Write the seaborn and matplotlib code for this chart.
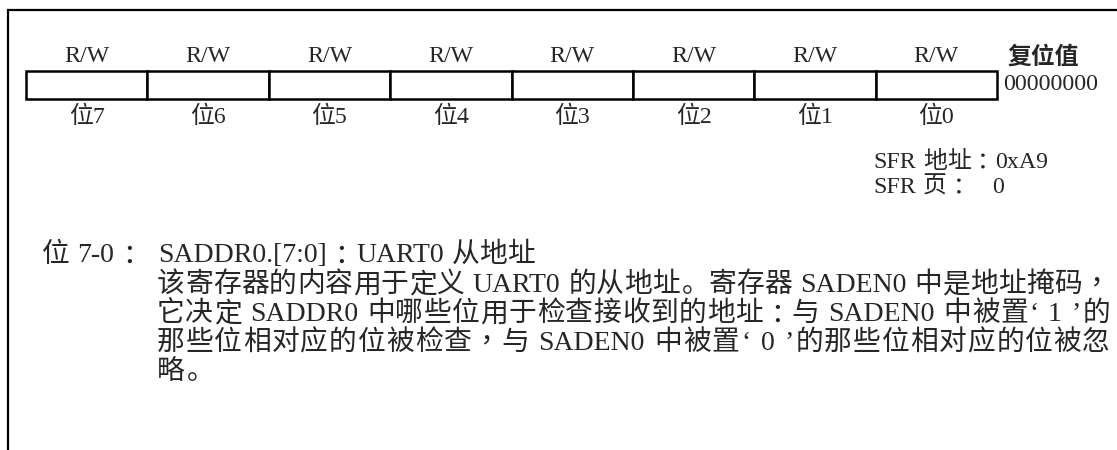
import numpy as np
import pandas as pd
import matplotlib
matplotlib.use("Agg")
import matplotlib.pyplot as plt
import seaborn as sns

# register layout data
bit_names = ["位7", "位6", "位5", "位4", "位3", "位2", "位1", "位0"]
access = ["R/W"] * 8
reset_title = "复位值"
reset_value = "00000000"
sfr_addr = "SFR 地址：0xA9"
sfr_page = "SFR 页："
sfr_page_val = "0"
field_name = "位 7-0："
desc_lines = [
    "SADDR0.[7:0]：UART0 从地址",
    "该寄存器的内容用于定义 UART0 的从地址。寄存器 SADEN0 中是地址掩码，",
    "它决定 SADDR0 中哪些位用于检查接收到的地址：与 SADEN0 中被置‘ 1 ’的",
    "那些位相对应的位被检查，与 SADEN0 中被置‘ 0 ’的那些位相对应的位被忽",
    "略。",
]
justified = [False, True, True, True, False]

sns.set_theme(style="white")
MIX = ["Liberation Serif", "Noto Sans CJK SC", "DejaVu Sans"]
PUNCT = ["Noto Sans CJK TC", "Noto Sans CJK SC"]  # centred full-width ：，
plt.rcParams["font.family"] = MIX

W, H = 1117, 450
fig = plt.figure(figsize=(W / 100, H / 100), dpi=100)
fig.patch.set_facecolor("white")

# page axes in pixel coordinates
page = fig.add_axes([0, 0, 1, 1])
page.set_xlim(0, W)
page.set_ylim(H, 0)
page.axis("off")
renderer = fig.canvas.get_renderer()


def is_cjk(ch):
    return ord(ch) >= 0x2E80


def put_line(x, y, s, size, right=None):
    # lay a mixed line out piece by piece; optional justification to `right`
    em = size * 100 / 72
    base = y + 0.40 * em
    items = []  # (kind, text, advance)
    word = ""
    for ch in s + "\0":
        if ch == "\0" or ch == " " or is_cjk(ch):
            if word:
                t = page.text(0, base, word, ha="left", va="baseline", fontsize=size)
                items.append(("lat", t, t.get_window_extent(renderer).width + 0.06 * em))
                word = ""
            if ch == " ":
                items.append(("sp", None, 0.25 * em))
            elif ch != "\0":
                if ch in "：，":
                    dy = 0.1 * em if ch == "：" else 0
                    t = page.text(0, base + dy, ch, ha="center", va="baseline",
                                  fontsize=size, family=PUNCT)
                    items.append(("pc", t, em))
                elif ch == "。":
                    t = page.text(0, base, ch, ha="left", va="baseline", fontsize=size)
                    items.append(("dot", t, em))
                else:
                    t = page.text(0, base, ch, ha="center", va="baseline", fontsize=size)
                    items.append(("cjk", t, em))
        else:
            word += ch
    total = sum(a for _, _, a in items)
    extra = 0.0
    if right is not None and len(items) > 1:
        extra = (right - x - total) / (len(items) - 1)
    cur = x
    for kind, t, adv in items:
        if kind in ("cjk", "pc"):
            t.set_x(cur + 0.5 * adv)
        elif kind == "dot":
            t.set_x(cur + 0.08 * em)
        elif kind == "lat":
            t.set_x(cur + 0.03 * em)
        cur += adv + extra


# outer frame (left and top edges)
page.plot([7.5, 7.5, W], [H, 10, 10], color="black", lw=1.6, solid_joinstyle="miter")

# register cells
x0, x1, y0, y1 = 26, 997, 71, 99
reg = fig.add_axes([x0 / W, 1 - y1 / H, (x1 - x0) / W, (y1 - y0) / H])
df = pd.DataFrame({"bit": bit_names, "h": np.ones(len(bit_names))})
sns.barplot(data=df, x="bit", y="h", order=bit_names, width=1.0, color="white",
            edgecolor="black", linewidth=1.8, ax=reg)
reg.set_xlim(-0.5, len(bit_names) - 0.5)
reg.set_ylim(0, 1)
reg.axis("off")
for b in reg.patches:
    b.set_clip_on(False)

hdr = 17.2
for i, (a, b) in enumerate(zip(access, bit_names)):
    reg.text(i, 1 + 14 / 28, a, ha="center", va="center", fontsize=hdr)
    reg.text(i, -18 / 28, b, ha="center", va="center", fontsize=hdr)

page.text(1007, 57, reset_title, ha="left", va="center", fontsize=hdr,
          family=["Noto Sans CJK SC"], fontweight="bold")
page.text(1003, 85, reset_value, ha="left", va="center", fontsize=hdr)
put_line(873, 158, sfr_addr, hdr)
put_line(873, 183, sfr_page, hdr)
put_line(991, 183, sfr_page_val, hdr)

body = 20.0
line_y = [251, 281, 310, 339, 368]
put_line(42, line_y[0], field_name, body)
for y, s, j in zip(line_y, desc_lines, justified):
    put_line(157, y, s, body, right=1110 if j else None)

fig.savefig("out.png", dpi=100)
